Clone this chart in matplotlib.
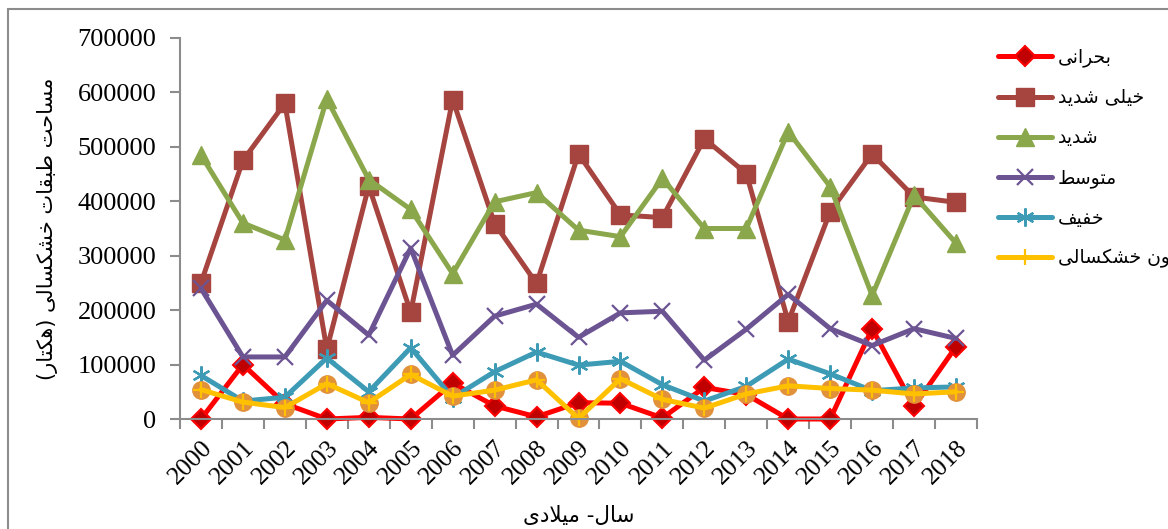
import matplotlib
matplotlib.use("Agg")
import matplotlib.pyplot as plt
import matplotlib.transforms as mtransforms
from matplotlib.patches import Rectangle

# data (hectares)
years = list(range(2000, 2019))
series_names = ["بحرانی", "خیلی شدید", "شدید", "متوسط", "خفیف", "بدون خشکسالی"]

bohrani = [0, 100000, 28000, 0, 3000, 0, 66000, 24000, 4000, 30000,
           29000, 2000, 58000, 45000, 0, 0, 166000, 23000, 133000]
kheili_shadid = [250000, 475000, 580000, 128000, 428000, 196000, 587000, 359000, 249000, 487000,
                 375000, 370000, 515000, 451000, 179000, 381000, 487000, 408000, 398000]
shadid = [485000, 360000, 329000, 588000, 440000, 385000, 267000, 399000, 416000, 347000,
          335000, 442000, 350000, 350000, 528000, 427000, 227000, 411000, 323000]
motavaset = [240000, 114000, 114000, 218000, 154000, 314000, 117000, 189000, 211000, 150000,
             195000, 198000, 108000, 165000, 229000, 166000, 135000, 166000, 148000]
khafif = [80000, 33000, 40000, 112000, 50000, 131000, 39000, 87000, 123000, 99000,
          106000, 63000, 33000, 60000, 110000, 83000, 52000, 57000, 59000]
bedoon = [54000, 31000, 21000, 65000, 30000, 82000, 42000, 53000, 72000, 1000,
          74000, 36000, 20000, 46000, 61000, 56000, 53000, 46000, 50000]

y_ticks = [0, 100000, 200000, 300000, 400000, 500000, 600000, 700000]
y_title = "مساحت طبقات خشکسالی (هکتار)"
x_title = "سال- میلادی"

# matplotlib has no Arabic shaping: pick presentation forms and reverse for display
FORMS = {
    "ا": ("\uFE8D", "\uFE8E", None, None),
    "ب": ("\uFE8F", "\uFE90", "\uFE91", "\uFE92"),
    "ت": ("\uFE95", "\uFE96", "\uFE97", "\uFE98"),
    "ح": ("\uFEA1", "\uFEA2", "\uFEA3", "\uFEA4"),
    "خ": ("\uFEA5", "\uFEA6", "\uFEA7", "\uFEA8"),
    "د": ("\uFEA9", "\uFEAA", None, None),
    "ر": ("\uFEAD", "\uFEAE", None, None),
    "س": ("\uFEB1", "\uFEB2", "\uFEB3", "\uFEB4"),
    "ش": ("\uFEB5", "\uFEB6", "\uFEB7", "\uFEB8"),
    "ط": ("\uFEC1", "\uFEC2", "\uFEC3", "\uFEC4"),
    "ف": ("\uFED1", "\uFED2", "\uFED3", "\uFED4"),
    "ق": ("\uFED5", "\uFED6", "\uFED7", "\uFED8"),
    "ل": ("\uFEDD", "\uFEDE", "\uFEDF", "\uFEE0"),
    "م": ("\uFEE1", "\uFEE2", "\uFEE3", "\uFEE4"),
    "ن": ("\uFEE5", "\uFEE6", "\uFEE7", "\uFEE8"),
    "ه": ("\uFEE9", "\uFEEA", "\uFEEB", "\uFEEC"),
    "و": ("\uFEED", "\uFEEE", None, None),
    "ک": ("\uFB8E", "\uFB8F", "\uFB90", "\uFB91"),
    "ی": ("\uFBFC", "\uFBFD", "\uFBFE", "\uFBFF"),
}


def joins_next(c):
    return c in FORMS and FORMS[c][2] is not None


def shape(text):
    out = []
    i = 0
    while i < len(text):
        c = text[i]
        prev = text[i - 1] if i > 0 else None
        nxt = text[i + 1] if i + 1 < len(text) else None
        if c not in FORMS:
            out.append(c)
            i += 1
            continue
        after_prev = prev is not None and joins_next(prev)
        if c == "ل" and nxt == "ا":
            out.append("\uFEFC" if after_prev else "\uFEFB")
            i += 2
            continue
        before_next = joins_next(c) and nxt in FORMS
        iso, fin, ini, med = FORMS[c]
        if after_prev and before_next:
            out.append(med)
        elif after_prev:
            out.append(fin)
        elif before_next:
            out.append(ini)
        else:
            out.append(iso)
        i += 1
    return "".join(reversed(out)).translate(str.maketrans("()", ")("))


plt.rcParams["font.family"] = ["Liberation Serif", "DejaVu Sans"]
fa_font = "DejaVu Sans"

fig = plt.figure(figsize=(11.68, 5.29), dpi=100)
ax = fig.add_axes([180 / 1168, 1 - 419 / 529, 797 / 1168, 381 / 529])

x = list(range(len(years)))
ms_kw = dict(lw=3.6, clip_on=False, solid_capstyle="round", solid_joinstyle="round")
ax.plot(x, bohrani, color="#FF0000", marker="D", ms=10.5, mfc="#C00000", mec="#FF0000",
        mew=1.5, label=shape(series_names[0]), **ms_kw)
ax.plot(x, kheili_shadid, color="#A6443F", marker="s", ms=13, mfc="#A6443F", mec="#A6443F",
        label=shape(series_names[1]), **ms_kw)
ax.plot(x, shadid, color="#8BA74B", marker="^", ms=13.5, mfc="#8BA74B", mec="#8BA74B",
        label=shape(series_names[2]), **ms_kw)
ax.plot(x, motavaset, color="#6C5493", marker="x", ms=12, mew=1.6,
        label=shape(series_names[3]), **ms_kw)
ax.plot(x, khafif, color="#3D9BB5", marker=(6, 2, 0), ms=13, mew=1.6,
        label=shape(series_names[4]), **ms_kw)
ax.plot(x, bedoon, linestyle="none", marker="o", ms=12.5, mfc="#E2913B", mec="#E2913B",
        clip_on=False, zorder=2.1)
ax.plot(x, bedoon, color="#FFC000", marker="+", ms=12, mew=1.6, zorder=2.2,
        label=shape(series_names[5]), **ms_kw)

ax.set_xlim(-0.5, len(years) - 0.5)
ax.set_ylim(0, 700000)
ax.set_yticks(y_ticks)
ax.set_yticklabels([str(v) for v in y_ticks], fontsize=19)
ax.set_xticks(x)
ax.set_xticklabels([str(y) for y in years], fontsize=18.5, rotation=45,
                   ha="right", va="top", rotation_mode="anchor")
ax.set_xticks([v - 0.5 for v in range(len(years) + 1)], minor=True)
shift = mtransforms.ScaledTranslation(-4 / 100, 0, fig.dpi_scale_trans)
for lbl in ax.get_xticklabels():
    lbl.set_transform(lbl.get_transform() + shift)

axis_grey = "#8C8C8C"
for side in ("top", "right"):
    ax.spines[side].set_visible(False)
for side in ("left", "bottom"):
    ax.spines[side].set_color(axis_grey)
    ax.spines[side].set_linewidth(1.5)
ax.tick_params(axis="y", direction="out", length=7, width=1.5, color=axis_grey, pad=10)
ax.tick_params(axis="x", which="major", length=0, pad=13)
ax.tick_params(axis="x", which="minor", direction="out", length=7, width=1.5, color=axis_grey)

ax.set_ylabel(shape(y_title), family=fa_font, fontsize=15)
ax.yaxis.set_label_coords(-0.153, 0.5)
ax.set_xlabel(shape(x_title), family=fa_font, fontsize=15.5)
ax.xaxis.set_label_coords(0.5, -0.255)
ax.xaxis.label.set_va("center")

fig.legend(loc="upper left", bbox_to_anchor=(990 / 1168, 1 - 40 / 529), frameon=False,
           prop={"family": fa_font, "size": 13.5}, handlelength=2.9, handletextpad=0.3,
           labelspacing=1.12, borderaxespad=0)

fig.patches.append(Rectangle((8 / 1168, -0.1), 1.2, 1.1 - 9 / 529, transform=fig.transFigure,
                             fill=False, ec=axis_grey, lw=1.5))

fig.savefig("out.png", dpi=100)
